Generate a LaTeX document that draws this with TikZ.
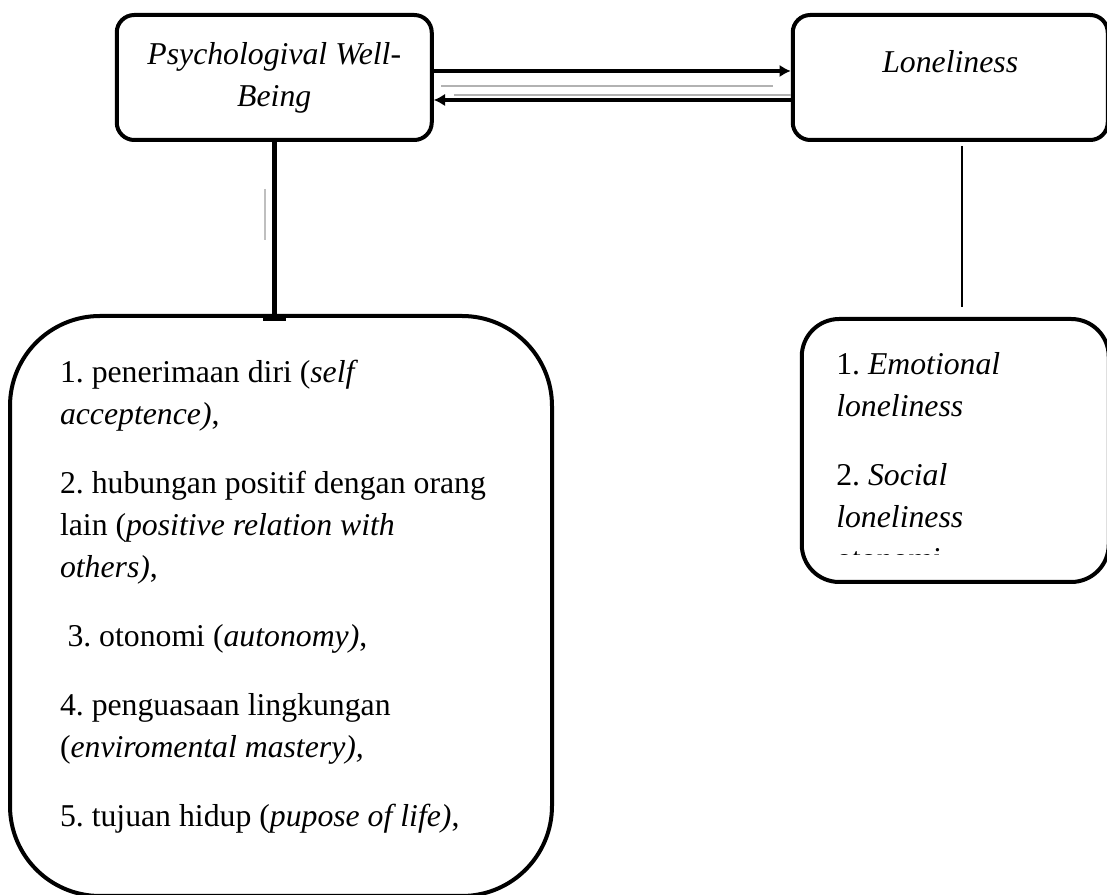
\documentclass[tikz,border=0pt]{standalone}
\usepackage{fontspec}
\setmainfont{Liberation Serif}
\usetikzlibrary{arrows.meta, positioning}
\frenchspacing

\begin{document}
\begin{tikzpicture}[
    % box styles
    topbox/.style={rectangle, draw, line width=1.6pt, rounded corners=7pt, minimum width=126pt, minimum height=50pt, inner sep=0pt, align=center, font=\fontsize{12.7}{16.8}\selectfont\itshape},
    bigbox/.style={rectangle, draw, line width=1.6pt, rounded corners=36pt, inner xsep=20pt, inner ysep=0pt},
    smallbox/.style={rectangle, draw, line width=1.6pt, rounded corners=15pt, minimum width=122.8pt, minimum height=105.2pt},
    arrow/.style={-{Latex[length=4.5pt,width=5pt]}, line width=1.6pt},
    shadowline/.style={gray!60, line width=0.9pt},
    node distance=68.8pt and 142.8pt
]
\useasboundingbox (0,0) rectangle (442.8pt,-358pt);

% top row
\node (pwb) [topbox] at (109.7pt,-31pt) {Psychologival Well-\\Being};
\node (lonely) [topbox, right=of pwb, text height=9pt, text depth=12.6pt] {Loneliness};

% dimension boxes
\node (dims) [bigbox, below=of pwb, xshift=2.7pt] {\parbox[c][232pt][t]{176.8pt}{\fontsize{12.7}{16.8}\selectfont\setlength\parskip{10.8pt}\vspace*{6.9pt}%
1. penerimaan diri (\textit{self}\\
\textit{acceptence)},\par
2. hubungan positif dengan orang\\
lain (\textit{positive relation with}\\
\textit{others)},\par
\hspace*{3pt}3. otonomi (\textit{autonomy)},\par
4. penguasaan lingkungan\\
(\textit{enviromental mastery),}\par
5. tujuan hidup (\textit{pupose of life)},}};

\node (lonedim) [smallbox, below=70pt of lonely, xshift=2pt] {};
\begin{scope}
  \clip ([xshift=1pt,yshift=-1pt]lonedim.north west) rectangle ([xshift=-1pt,yshift=-95pt]lonedim.north east);
  \node (lonetext) [anchor=north west, inner sep=0pt] at ([xshift=14.4pt]lonedim.north west) {\parbox[t]{94pt}{\fontsize{12.7}{16.8}\selectfont\setlength\parskip{10.8pt}\vspace*{3.3pt}%
1. \textit{Emotional}\\
\textit{loneliness}\par
2. \textit{Social}\\
\textit{loneliness}\\
otonomi}};
\end{scope}

% arrows between the two variables
\draw [arrow] ([yshift=2.6pt]pwb.east) -- ([yshift=2.6pt]pwb.east -| lonely.west);
\draw [arrow] ([yshift=-9pt]lonely.west) -- ([yshift=-9pt]lonely.west -| pwb.east);
\draw [shadowline] ([xshift=3pt,yshift=-3.4pt]pwb.east) -- ([xshift=-7pt,yshift=-3.4pt]lonely.west);
\draw [shadowline] ([xshift=8pt,yshift=-7pt]pwb.east) -- ([yshift=-7pt]lonely.west);

% left connector
\draw [line width=2pt] (pwb.south) -- (pwb.south |- dims.north);
\fill ([xshift=-4.6pt]pwb.south |- dims.north) rectangle ++(9.2pt,-2.8pt);
\draw [gray!50, line width=0.8pt] ([xshift=-3.8pt,yshift=-18.8pt]pwb.south) -- ++(0,-20.4pt);

% right connector
\coordinate (lntop) at ([xshift=4.6pt,yshift=-1.6pt]lonely.south);
\coordinate (lnbot) at ([yshift=4pt]lonedim.north -| lntop);
\draw [line width=0.8pt] (lntop) -- (lnbot);

\end{tikzpicture}
\end{document}
